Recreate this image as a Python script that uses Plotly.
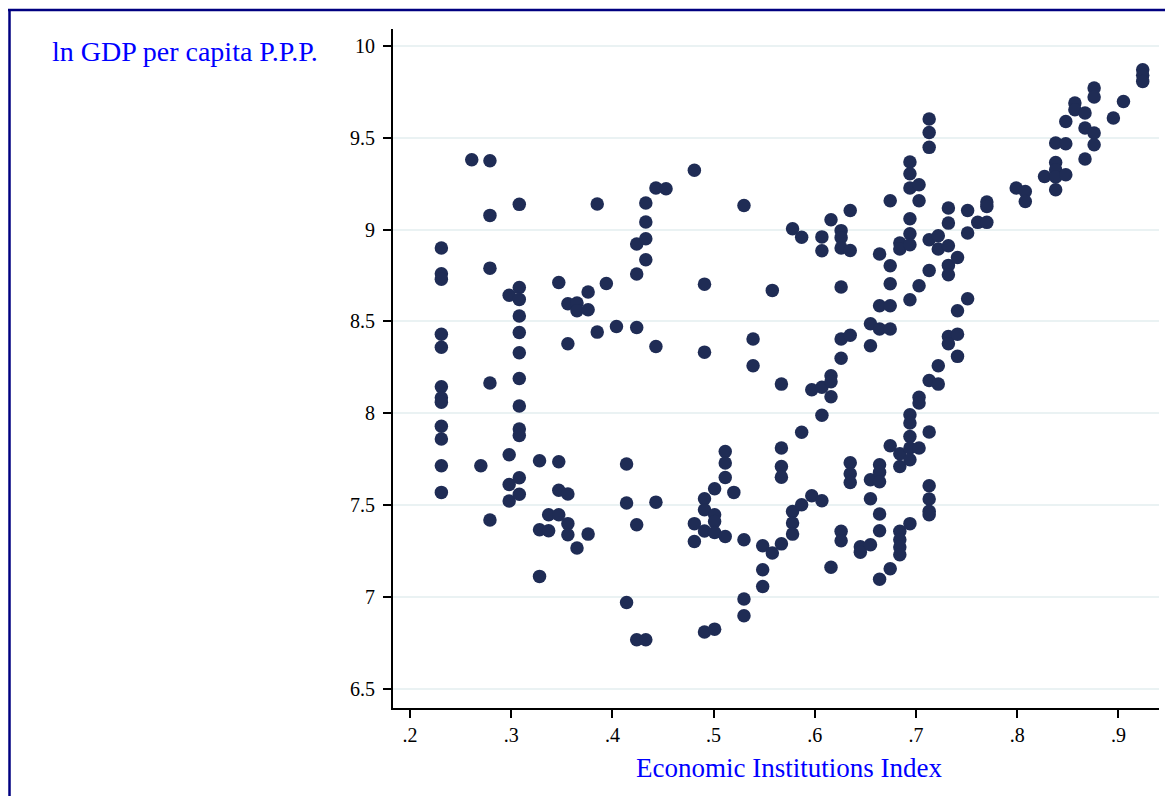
import plotly.graph_objects as go

# Economic Institutions Index (x) and ln GDP per capita PPP (y), read column by column
inst_index = []
ln_gdp = []

columns = [
    (0.231, [8.90, 8.76, 8.73, 8.43, 8.36, 8.145, 8.085, 8.06, 7.93, 7.86, 7.715, 7.57]),
    (0.261, [9.38]),
    (0.270, [7.715]),
    (0.279, [9.374, 9.077, 8.79, 8.165, 7.42]),
    (0.298, [8.642, 7.775, 7.613, 7.523]),
    (0.308, [9.137, 8.685, 8.62, 8.53, 8.44, 8.33, 8.19, 8.04, 7.915, 7.88, 7.65, 7.56]),
    (0.328, [7.742, 7.367, 7.113]),
    (0.337, [7.448, 7.361]),
    (0.347, [8.712, 7.737, 7.582, 7.448]),
    (0.356, [8.596, 8.379, 7.561, 7.40, 7.34]),
    (0.365, [8.60, 8.558, 7.267]),
    (0.376, [8.66, 8.564, 7.343]),
    (0.385, [9.139, 8.442]),
    (0.394, [8.707]),
    (0.404, [8.473]),
    (0.414, [7.724, 7.512, 6.971]),
    (0.424, [8.921, 8.758, 8.467, 7.394, 6.768]),
    (0.433, [9.144, 9.041, 8.95, 8.836, 6.768]),
    (0.443, [9.226, 8.364, 7.517]),
    (0.453, [9.222]),
    (0.481, [9.322, 7.40, 7.303]),
    (0.491, [8.703, 8.333, 7.535, 7.476, 7.36, 6.81]),
    (0.501, [7.59, 7.448, 7.412, 7.352, 6.826]),
    (0.5115, [7.793, 7.73, 7.651, 7.33]),
    (0.520, [7.57]),
    (0.530, [9.131, 7.312, 6.99, 6.899]),
    (0.539, [8.404, 8.259]),
    (0.5485, [7.28, 7.149, 7.058]),
    (0.558, [8.669, 7.24]),
    (0.567, [8.159, 7.811, 7.711, 7.653, 7.29]),
    (0.578, [9.004, 7.466, 7.403, 7.343]),
    (0.587, [8.958, 7.897, 7.503]),
    (0.597, [8.128, 7.552]),
    (0.607, [8.96, 8.885, 8.142, 7.99, 7.524]),
    (0.616, [9.053, 8.205, 8.172, 8.09, 7.163]),
    (0.626, [8.994, 8.956, 8.90, 8.687, 8.404, 8.30, 7.358, 7.307]),
    (0.635, [9.104, 8.886, 8.425, 7.731, 7.671, 7.624]),
    (0.645, [7.274, 7.244]),
    (0.655, [8.487, 8.368, 7.639, 7.535, 7.285]),
    (0.664, [8.867, 8.585, 8.459, 7.72, 7.68, 7.628, 7.452, 7.361, 7.098]),
    (0.6745, [9.157, 8.803, 8.705, 8.585, 8.459, 7.824, 7.155]),
    (0.684, [8.927, 8.894, 7.78, 7.711, 7.358, 7.312, 7.273, 7.231]),
    (0.694, [9.367, 9.304, 9.226, 9.059, 8.977, 8.917, 8.618, 7.992, 7.947, 7.874, 7.811, 7.748, 7.40]),
    (0.703, [9.244, 9.157, 8.694, 8.087, 8.056, 7.811]),
    (0.713, [9.601, 9.528, 9.447, 8.945, 8.777, 8.179, 7.898, 7.606, 7.534, 7.467, 7.449]),
    (0.722, [8.966, 8.894, 8.259, 8.159]),
    (0.732, [9.117, 9.035, 8.912, 8.805, 8.754, 8.418, 8.379]),
    (0.741, [8.848, 8.558, 8.431, 8.31]),
    (0.751, [9.104, 8.981, 8.623]),
    (0.761, [9.039]),
    (0.770, [9.150, 9.126, 9.039]),
    (0.799, [9.226]),
    (0.808, [9.207, 9.153]),
    (0.827, [9.289]),
    (0.838, [9.471, 9.365, 9.325, 9.286, 9.217]),
    (0.848, [9.588, 9.467, 9.298]),
    (0.857, [9.688, 9.652]),
    (0.867, [9.634, 9.552, 9.384]),
    (0.876, [9.770, 9.721, 9.525, 9.461]),
    (0.895, [9.607]),
    (0.905, [9.697]),
    (0.924, [9.869, 9.84, 9.806]),
]
for xv, ys in columns:
    for yv in ys:
        inst_index.append(xv)
        ln_gdp.append(yv)

x_tick_vals = [0.2, 0.3, 0.4, 0.5, 0.6, 0.7, 0.8, 0.9]
x_tick_text = [".2", ".3", ".4", ".5", ".6", ".7", ".8", ".9"]
y_tick_vals = [6.5, 7, 7.5, 8, 8.5, 9, 9.5, 10]
y_tick_text = ["6.5", "7", "7.5", "8", "8.5", "9", "9.5", "10"]

SERIF = "Liberation Serif, Times New Roman, serif"
OFF = 8  # page body margin
W, H = 1165, 788
L, R, T, B = 385, 14, 21, 88

def px_x(p):
    return (p - OFF - L) / (W - L - R)

def px_y(p):
    return (H - B - (p - OFF)) / (H - T - B)

fig = go.Figure()
fig.add_trace(go.Scatter(
    x=inst_index, y=ln_gdp, mode="markers",
    marker=dict(size=13.5, color="#1F2C55", line=dict(width=0)),
    showlegend=False, cliponaxis=False,
))

fig.update_layout(
    width=W, height=H,
    margin=dict(l=L, r=R, t=T, b=B),
    paper_bgcolor="white", plot_bgcolor="white",
    xaxis=dict(
        range=[0.1832, 0.9401], tickvals=x_tick_vals, ticktext=x_tick_text,
        showgrid=False, zeroline=False, showline=True, linecolor="black", linewidth=2,
        ticks="outside", ticklen=8, tickwidth=2, tickcolor="black",
        tickfont=dict(family=SERIF, size=20, color="black"),
    ),
    yaxis=dict(
        range=[6.397, 10.091], tickvals=y_tick_vals, ticktext=y_tick_text,
        showgrid=True, gridcolor="#EAF2F3", gridwidth=2, zeroline=False,
        showline=True, linecolor="black", linewidth=2,
        ticks="outside", ticklen=8, tickwidth=2, tickcolor="black",
        ticklabelstandoff=4,
        tickfont=dict(family=SERIF, size=20, color="black"),
    ),
    annotations=[
        dict(text="ln GDP per capita P.P.P.", xref="paper", yref="paper",
             x=px_x(50), y=px_y(51), xanchor="left", yanchor="middle", showarrow=False,
             font=dict(family=SERIF, size=28, color="#0000FF")),
        dict(text="Economic Institutions Index", xref="paper", yref="paper",
             x=px_x(789), y=px_y(768), xanchor="center", yanchor="middle", showarrow=False,
             font=dict(family=SERIF, size=27, color="#0000FF")),
    ],
    shapes=[
        dict(type="line", xref="paper", yref="paper", x0=px_x(8), x1=px_x(1200),
             y0=px_y(10), y1=px_y(10), line=dict(color="#000080", width=2.5)),
        dict(type="line", xref="paper", yref="paper", x0=px_x(9.5), x1=px_x(9.5),
             y0=px_y(10), y1=px_y(820), line=dict(color="#000080", width=2.5)),
        dict(type="line", xref="paper", yref="paper", x0=px_x(1172), x1=px_x(1172),
             y0=px_y(20), y1=px_y(820), line=dict(color="#E8EFF3", width=1.5)),
    ],
)

fig.write_html("out.html")
